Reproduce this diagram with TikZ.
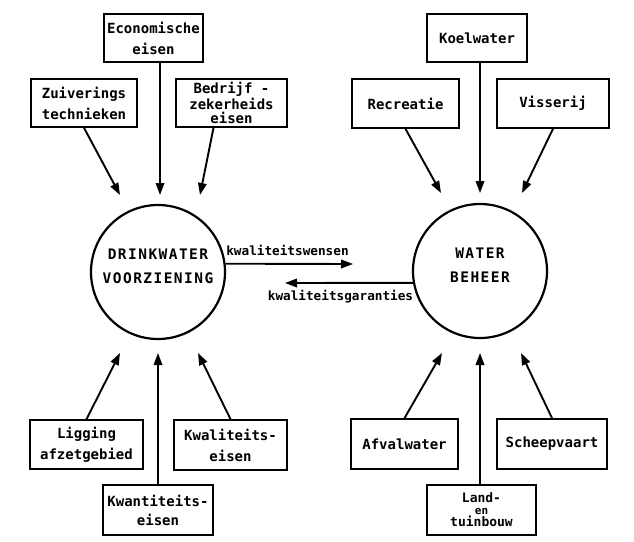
\documentclass[tikz,border=0pt]{standalone}
\usepackage{fontspec}
\usepackage{tikz}
\usetikzlibrary{positioning,arrows.meta}
\newfontfamily\letterfont[BoldFont={DejaVu Sans Mono Bold}]{DejaVu Sans Mono}
\newfontfamily\ringfont[LetterSpace=10]{DejaVu Sans Mono Bold}

\begin{document}
\begin{tikzpicture}[x=1pt,y=-1pt,>={Triangle[length=12pt,width=8.5pt]},
  box/.style={draw,line width=1.7pt,inner sep=0pt,align=center,font=\letterfont\bfseries\fontsize{14}{21}\selectfont},
  ring/.style={draw,circle,line width=2.2pt,inner sep=0pt,minimum size=134pt,align=center,text depth=11pt,font=\ringfont\fontsize{14.5}{24}\selectfont},
  lbl/.style={inner sep=0pt,font=\letterfont\bfseries\fontsize{12.7}{14}\selectfont},
  arr/.style={->,line width=1.9pt}]
\useasboundingbox (0,0) rectangle (634,541);
% de twee kringen
\node[ring] (drink) at (158,272) {DRINKWATER\\VOORZIENING};
\node[ring] (beheer) at (480,271) {WATER\\BEHEER};
% boven links
\node[box,minimum width=99pt,minimum height=48pt] (econ) at (153.5,38) {Economische\\eisen};
\node[box,minimum width=106pt,minimum height=48pt] (zuiv) at (84,103) {Zuiverings\\technieken};
\node[box,minimum width=111pt,minimum height=48pt,font=\letterfont\bfseries\fontsize{14}{14}\selectfont] (bedr) at (231.5,103) {Bedrijf -\\zekerheids\\eisen};
% boven rechts
\node[box,minimum width=100pt,minimum height=48pt] (koel) at (477,38) {Koelwater};
\node[box,minimum width=107pt,minimum height=49pt] (recr) at (405.5,103.5) {Recreatie};
\node[box,minimum width=112pt,minimum height=49pt] (viss) at (553,103.5) {Visserij};
% onder links
\node[box,minimum width=113pt,minimum height=49pt] (ligg) at (86.5,444.5) {Ligging\\afzetgebied};
\node[box,minimum width=113pt,minimum height=50pt] (kwal) at (230.5,445) {Kwaliteits-\\eisen};
\node[box,minimum width=110pt,minimum height=50pt,font=\letterfont\bfseries\fontsize{14}{19}\selectfont] (kwan) at (158,510) {Kwantiteits-\\eisen};
% onder rechts
\node[box,minimum width=107pt,minimum height=50pt] (afv) at (404.5,444) {Afvalwater};
\node[box,minimum width=110pt,minimum height=50pt] (schp) at (552,444) {Scheepvaart};
\node[box,minimum width=109pt,minimum height=50pt,font=\letterfont\bfseries\fontsize{13}{12}\selectfont] (land) at (481.5,510) {Land-\\{\fontsize{11}{12}\selectfont en}\\tuinbouw};
% pijlpunten
\coordinate (tZuiv) at (120,195);
\coordinate (tEcon) at (160,195);
\coordinate (tBedr) at (200,195);
\coordinate (tRecr) at (441,193);
\coordinate (tKoel) at (480,193);
\coordinate (tViss) at (522,193);
\coordinate (tLigg) at (120,353);
\coordinate (tKwan) at (158,353);
\coordinate (tKwal) at (198,353);
\coordinate (tAfv) at (442,353);
\coordinate (tLand) at (480,353);
\coordinate (tSchp) at (521,353);
\coordinate (tWens) at (353,264);
\coordinate (tGar) at (285,283);
\draw[arr] (zuiv.south) -- (tZuiv);
\draw[arr] (econ.south -| tEcon) -- (tEcon);
\draw[arr] ([xshift=-18pt]bedr.south) -- (tBedr);
\draw[arr] (recr.south) -- (tRecr);
\draw[arr] (koel.south -| tKoel) -- (tKoel);
\draw[arr] (viss.south) -- (tViss);
\draw[arr] (ligg.north) -- (tLigg);
\draw[arr] (kwan.north -| tKwan) -- (tKwan);
\draw[arr] (kwal.north) -- (tKwal);
\draw[arr] (afv.north) -- (tAfv);
\draw[arr] (land.north -| tLand) -- (tLand);
\draw[arr] (schp.north) -- (tSchp);
% tussen de kringen
\draw[arr] (drink.7) -- (tWens);
\draw[arr] (beheer.190) -- (tGar);
\node[lbl] (wens) at (287.5,250) {kwaliteitswensen};
\node[lbl] (gar) at (340.5,297) {kwaliteitsgaranties};
\end{tikzpicture}
\end{document}
